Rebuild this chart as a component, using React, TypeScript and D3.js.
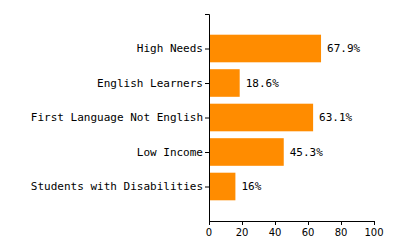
import React from "react";
import * as d3 from "d3";

const categories = ["High Needs", "English Learners", "First Language Not English", "Low Income", "Students with Disabilities"];
const values = [67.9, 18.6, 63.1, 45.3, 16];
const valueLabels = ["67.9%", "18.6%", "63.1%", "45.3%", "16%"];
const xTicks = [0, 20, 40, 60, 80, 100];

export default function App() {
  const width = 400, height = 250;
  const left = 209, right = 374, top = 14, bottom = 221;
  const x = d3.scaleLinear().domain([0, 100]).range([left, right]);
  const y = d3.scaleBand<string>().domain(categories).range([top, bottom]).paddingInner(0.2).paddingOuter(0.6);
  const mono = "'DejaVu Sans Mono', monospace";
  const sans = "'DejaVu Sans', Verdana, sans-serif";
  return (
    <svg width={width} height={height} style={{ position: "absolute", left: 0, top: 0 }}>
      <rect width={width} height={height} fill="#fff" />
      {categories.map((c, i) => (
        <g key={c}>
          <rect x={x(0)} y={y(c)!} width={x(values[i]) - x(0)} height={y.bandwidth()} fill="#FF8C00" />
          <text x={x(values[i]) + 6} y={y(c)! + y.bandwidth() / 2} dy="0.35em" fontFamily={mono} fontSize={11} fill="#000">{valueLabels[i]}</text>
          <line x1={left - 4} x2={left} y1={y(c)! + y.bandwidth() / 2 + 0.5} y2={y(c)! + y.bandwidth() / 2 + 0.5} stroke="#000" />
          <text x={left - 6} y={y(c)! + y.bandwidth() / 2} dy="0.35em" textAnchor="end" fontFamily={mono} fontSize={11} fill="#000">{c}</text>
        </g>
      ))}
      <path d={`M${left - 4},${top + 0.5}H${left + 0.5}V${bottom}`} fill="none" stroke="#000" />
      <path d={`M${left},${bottom + 0.5}H${right + 0.5}`} fill="none" stroke="#000" />
      {xTicks.map((t) => (
        <g key={t}>
          <line x1={Math.round(x(t)) + 0.5} x2={Math.round(x(t)) + 0.5} y1={bottom} y2={bottom + 4} stroke="#000" />
          <text x={x(t)} y={bottom + 15} textAnchor="middle" fontFamily={sans} fontSize={10} fill="#000">{t}</text>
        </g>
      ))}
    </svg>
  );
}
